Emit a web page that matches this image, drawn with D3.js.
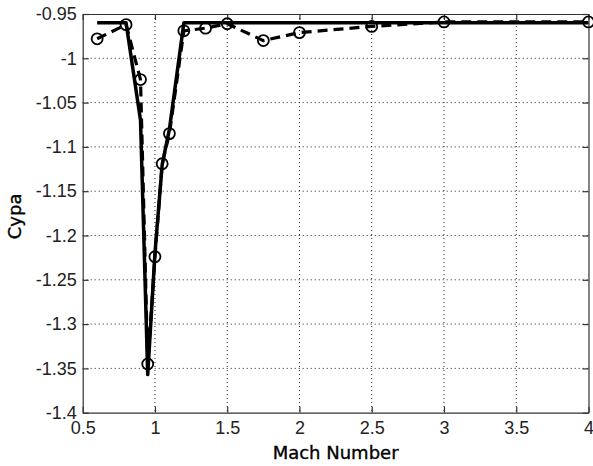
<!DOCTYPE html>
<html>
<head>
<meta charset="utf-8">
<script src="https://cdn.jsdelivr.net/npm/d3@7/dist/d3.min.js"></script>
<style>
  html, body { margin: 0; padding: 0; background: #fff; }
  svg { display: block; }
</style>
</head>
<body>
<svg id="chart" width="593" height="466"></svg>
<script>
// Solid curve: Cypa vs Mach number
const solidMach = [0.6, 0.8, 0.9, 0.95, 1.0, 1.05, 1.1, 1.2, 4.0];
const solidCypa = [-0.96, -0.96, -1.07, -1.357, -1.22, -1.12, -1.08, -0.96, -0.96];

// Dashed curve with circle markers
const dashMach = [0.6, 0.8, 0.9, 0.95, 1.0, 1.05, 1.1, 1.2, 1.35, 1.5, 1.75, 2.0, 2.5, 3.0, 4.0];
const dashCypa = [-0.978, -0.962, -1.024, -1.345, -1.224, -1.119, -1.085, -0.969, -0.966, -0.961, -0.980, -0.971, -0.964, -0.959, -0.959];

// Axis ticks
const xTicks = [0.5, 1, 1.5, 2, 2.5, 3, 3.5, 4];
const yTicks = [-1.4, -1.35, -1.3, -1.25, -1.2, -1.15, -1.1, -1.05, -1, -0.95];

const svg = d3.select("#chart");
const W = 593, H = 466;
const m = { left: 82.7, right: 593 - 588.5, top: 14, bottom: 466 - 412.7 };
const iw = W - m.left - m.right, ih = H - m.top - m.bottom;

const x = d3.scaleLinear().domain([0.5, 4]).range([0, iw]);
const y = d3.scaleLinear().domain([-1.4, -0.95]).range([ih, 0]);

const g = svg.append("g").attr("transform", `translate(${m.left},${m.top})`);

const fmt = v => String(+v.toFixed(2));
const axisColor = "#333";

// Dotted grid
g.append("g").selectAll("line").data(xTicks.slice(1, -1)).join("line")
  .attr("x1", d => x(d)).attr("x2", d => x(d)).attr("y1", 0).attr("y2", ih)
  .attr("stroke", "#222").attr("stroke-width", 1).attr("stroke-dasharray", "1,3");
g.append("g").selectAll("line").data(yTicks.slice(1, -1)).join("line")
  .attr("y1", d => y(d)).attr("y2", d => y(d)).attr("x1", 0).attr("x2", iw)
  .attr("stroke", "#222").attr("stroke-width", 1).attr("stroke-dasharray", "1,3");

// Axes with inward ticks on all four sides
const tickStyle = sel => {
  sel.select(".domain").attr("stroke", axisColor).attr("stroke-width", 1.2);
  sel.selectAll(".tick line").attr("stroke", axisColor).attr("stroke-width", 1.2);
};
const axisB = g.append("g").attr("transform", `translate(0,${ih})`)
  .call(d3.axisBottom(x).tickValues(xTicks).tickFormat(fmt).tickSizeInner(-6).tickSizeOuter(0).tickPadding(9));
axisB.call(tickStyle);
axisB.selectAll("text").attr("font-family", "Liberation Sans, Arial, sans-serif")
  .attr("font-size", 18).attr("fill", "#222");

const axisL = g.append("g")
  .call(d3.axisLeft(y).tickValues(yTicks).tickFormat(fmt).tickSizeInner(-6).tickSizeOuter(0).tickPadding(6));
axisL.call(tickStyle);
axisL.selectAll("text").attr("font-family", "Liberation Sans, Arial, sans-serif")
  .attr("font-size", 18).attr("fill", "#222");

const axisT = g.append("g")
  .call(d3.axisTop(x).tickValues(xTicks).tickFormat("").tickSizeInner(-6).tickSizeOuter(0));
axisT.call(tickStyle);
const axisR = g.append("g").attr("transform", `translate(${iw},0)`)
  .call(d3.axisRight(y).tickValues(yTicks).tickFormat("").tickSizeInner(-6).tickSizeOuter(0));
axisR.call(tickStyle);

// Curves
const solidData = solidMach.map((d, i) => [d, solidCypa[i]]);
const dashData = dashMach.map((d, i) => [d, dashCypa[i]]);
const line = d3.line().x(d => x(d[0])).y(d => y(d[1]));

g.append("path").datum(dashData).attr("d", line)
  .attr("fill", "none").attr("stroke", "#000").attr("stroke-width", 3.2)
  .attr("stroke-dasharray", "10,6").attr("stroke-linejoin", "round");

g.append("path").datum(solidData).attr("d", line)
  .attr("fill", "none").attr("stroke", "#000").attr("stroke-width", 3.5)
  .attr("stroke-linejoin", "round");

g.append("g").selectAll("circle").data(dashData).join("circle")
  .attr("cx", d => x(d[0])).attr("cy", d => y(d[1])).attr("r", 5.5)
  .attr("fill", "none").attr("stroke", "#000").attr("stroke-width", 1.8);

// Axis titles
svg.append("text").attr("x", m.left + iw / 2).attr("y", 459)
  .attr("text-anchor", "middle").attr("font-family", "DejaVu Sans, Verdana, sans-serif")
  .attr("font-size", 18).attr("fill", "#000")
  .attr("stroke", "#000").attr("stroke-width", 0.35).text("Mach Number");

svg.append("text").attr("transform", `translate(21,${m.top + ih / 2 + 3}) rotate(-90)`)
  .attr("text-anchor", "middle").attr("font-family", "DejaVu Sans, Verdana, sans-serif")
  .attr("font-size", 18).attr("fill", "#000")
  .attr("stroke", "#000").attr("stroke-width", 0.35).text("Cypa");
</script>
</body>
</html>
